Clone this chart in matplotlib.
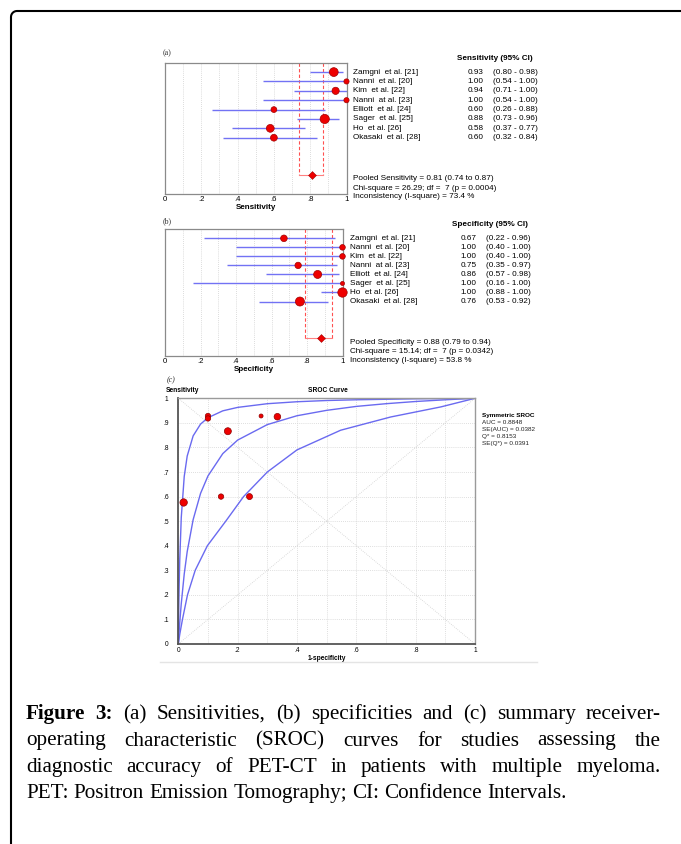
import numpy as np
import matplotlib.pyplot as plt
from matplotlib.transforms import blended_transform_factory
from matplotlib.lines import Line2D

# ---- data ----
studies = ['Zamgni  et al. [21]', 'Nanni  et al. [20]', 'Kim  et al. [22]', 'Nanni  at al. [23]',
           'Elliott  et al. [24]', 'Sager  et al. [25]', 'Ho  et al. [26]', 'Okasaki  et al. [28]']

sens = [0.93, 1.00, 0.94, 1.00, 0.60, 0.88, 0.58, 0.60]
sens_lo = [0.80, 0.54, 0.71, 0.54, 0.26, 0.73, 0.37, 0.32]
sens_hi = [0.98, 1.00, 1.00, 1.00, 0.88, 0.96, 0.77, 0.84]
sens_weight = [4.4, 2.6, 3.6, 2.6, 2.9, 4.6, 3.9, 3.4]
sens_pooled = (0.81, 0.74, 0.87)
sens_stats = ['Pooled Sensitivity = 0.81 (0.74 to 0.87)',
              'Chi-square = 26.29; df =  7 (p = 0.0004)',
              'Inconsistency (I-square) = 73.4 %']

spec = [0.67, 1.00, 1.00, 0.75, 0.86, 1.00, 1.00, 0.76]
spec_lo = [0.22, 0.40, 0.40, 0.35, 0.57, 0.16, 0.88, 0.53]
spec_hi = [0.96, 1.00, 1.00, 0.97, 0.98, 1.00, 1.00, 0.92]
spec_weight = [3.3, 2.8, 2.8, 3.2, 4.0, 2.0, 4.7, 4.5]
spec_pooled = (0.88, 0.79, 0.94)
spec_stats = ['Pooled Specificity = 0.88 (0.79 to 0.94)',
              'Chi-square = 15.14; df =  7 (p = 0.0342)',
              'Inconsistency (I-square) = 53.8 %']

# SROC study points (1-specificity, sensitivity)
sroc_fpr = [0.018, 0.10, 0.10, 0.167, 0.144, 0.24, 0.279, 0.334]
sroc_tpr = [0.576, 0.928, 0.918, 0.866, 0.60, 0.60, 0.928, 0.925]
sroc_weight = [3.7, 2.7, 2.7, 3.5, 2.7, 3.0, 2.0, 3.3]

# SROC curve and its bounds
up_f = [0, 0.001, 0.002, 0.003, 0.005, 0.01, 0.02, 0.03, 0.05, 0.075, 0.1, 0.15, 0.2, 0.3, 0.4, 0.5, 0.6, 0.7, 0.8, 0.9, 1.0]
up_s = [0, 0.095, 0.174, 0.241, 0.346, 0.515, 0.682, 0.765, 0.847, 0.895, 0.921, 0.949, 0.963, 0.978, 0.986, 0.991, 0.994, 0.996, 0.998, 0.999, 1.0]
mid_f = [0, 0.002, 0.005, 0.01, 0.02, 0.03, 0.05, 0.075, 0.1, 0.15, 0.2, 0.3, 0.4, 0.5, 0.6, 0.7, 0.8, 0.9, 1.0]
mid_s = [0, 0.038, 0.089, 0.164, 0.285, 0.376, 0.506, 0.613, 0.684, 0.775, 0.830, 0.893, 0.929, 0.951, 0.967, 0.978, 0.987, 0.994, 1.0]
lo_f = [0, 0.005, 0.014, 0.031, 0.057, 0.098, 0.16, 0.22, 0.3, 0.4, 0.547, 0.716, 0.885, 1.0]
lo_s = [0, 0.04, 0.1, 0.2, 0.3, 0.4, 0.5, 0.6, 0.70, 0.79, 0.87, 0.924, 0.965, 1.0]

sroc_stats = ['AUC = 0.8848', 'SE(AUC) = 0.0382', 'Q* = 0.8153', 'SE(Q*) = 0.0391']

caption = ['Figure 3: (a) Sensitivities, (b) specificities and (c) summary receiver-',
           'operating characteristic (SROC) curves for studies assessing the',
           'diagnostic accuracy of PET-CT in patients with multiple myeloma.',
           'PET: Positron Emission Tomography; CI: Confidence Intervals.']

# ---- figure ----
W, H = 681, 844
fig = plt.figure(figsize=(W / 100, H / 100), dpi=100)
SANS = 'Liberation Sans'
SERIF = 'Liberation Serif'
FS = 5.9


def fx(x):
    return x / W


def fy(y):
    return 1 - y / H


def forest(left, top, right, bottom, est, lo, hi, wt, pooled, stats, xlabel, header,
           name_x, val_x, ci_x, head_x, head_y, stat_ys, tag, tag_y):
    ax = fig.add_axes([fx(left), fy(bottom), (right - left) / W, (bottom - top) / H])
    rows = np.arange(1, len(est) + 1)
    ax.set_xlim(0, 1)
    ax.set_ylim(14, 0)
    for g in np.arange(0.1, 0.95, 0.1):
        ax.axvline(g, color='#d0d0d0', lw=0.6, ls=(0, (1, 1.5)), zorder=0)
    ax.hlines(rows, lo, hi, color='#7272f4', lw=1.0, zorder=2)
    ax.scatter(est, rows, s=(1.44 * np.array(wt)) ** 2, color='#ee0000',
               edgecolor='#a00000', lw=0.5, zorder=3, clip_on=False)
    p, plo, phi = pooled
    ax.plot([plo, plo], [0, 12], color='#ff5050', lw=0.8, ls=(0, (3, 2)), zorder=1)
    ax.plot([phi, phi], [0, 12], color='#ff5050', lw=0.8, ls=(0, (3, 2)), zorder=1)
    ax.plot([plo, phi], [12, 12], color='#ff8080', lw=0.8, zorder=1)
    ax.scatter([p], [12], marker='D', s=16, color='#ee0000', edgecolor='#a00000', lw=0.4, zorder=3)

    ax.set_yticks([])
    ax.set_xticks([0, 0.2, 0.4, 0.6, 0.8, 1.0])
    ax.set_xticklabels(['0', '.2', '.4', '.6', '.8', '1'], fontsize=5.6, family=SANS)
    ax.tick_params(axis='x', length=0, pad=1.5)
    ax.set_xlabel(xlabel, fontsize=5.8, fontweight='bold', family=SANS, labelpad=1)
    for s in ax.spines.values():
        s.set_color('#8a8a8a')
        s.set_linewidth(0.9)

    trans = blended_transform_factory(fig.transFigure, ax.transData)
    for r, name, e, l, h in zip(rows, studies, est, lo, hi):
        ax.text(fx(name_x), r, name, transform=trans, va='center', fontsize=FS, family=SANS)
        ax.text(fx(val_x), r, f'{e:.2f}', transform=trans, va='center', fontsize=FS, family=SANS)
        ax.text(fx(ci_x), r, f'({l:.2f} - {h:.2f})', transform=trans, va='center', fontsize=FS, family=SANS)
    fig.text(fx(head_x), fy(head_y), header, va='center', fontsize=FS, fontweight='bold', family=SANS)
    for t, yy in zip(stats, stat_ys):
        fig.text(fx(name_x), fy(yy), t, va='center', fontsize=FS, family=SANS)
    fig.text(fx(163), fy(tag_y), tag, va='center', fontsize=5.8, family=SERIF, color='#333333')
    return ax


forest(165, 62.7, 346.5, 194, sens, sens_lo, sens_hi, sens_weight, sens_pooled, sens_stats,
       'Sensitivity', 'Sensitivity (95% CI)', 353, 467.5, 493, 457, 58.3,
       [178, 188, 197], '(a)', 53.5)
forest(165, 229.3, 342.5, 355.7, spec, spec_lo, spec_hi, spec_weight, spec_pooled, spec_stats,
       'Specificity', 'Specificity (95% CI)', 350, 460.5, 485.5, 452, 225,
       [342.7, 351.7, 360.7], '(b)', 221)

# ---- SROC panel ----
ax = fig.add_axes([fx(178.3), fy(644), 296.7 / W, 245.7 / H])
ax.set_xlim(0, 1)
ax.set_ylim(0, 1)
ax.set_xticks(np.arange(0, 1.01, 0.2))
ax.set_xticks(np.arange(0.1, 1.0, 0.2), minor=True)
ax.set_xticklabels(['0', '.2', '.4', '.6', '.8', '1'], fontsize=4.8, family=SANS)
ax.set_yticks(np.arange(0, 1.01, 0.1))
ax.set_yticklabels(['0', '.1', '.2', '.3', '.4', '.5', '.6', '.7', '.8', '.9', '1'], fontsize=4.8, family=SANS)
ax.tick_params(which='both', length=0)
ax.tick_params(axis='y', pad=7)
ax.tick_params(axis='x', pad=2)
ax.grid(which='both', color='#d4d4d4', lw=0.6, ls=(0, (1, 1.5)))
ax.set_axisbelow(True)
ax.plot([0, 1], [0, 1], color='#d0d0d0', lw=0.6, ls=(0, (1, 1.5)), zorder=1)
ax.plot([0, 1], [1, 0], color='#d0d0d0', lw=0.6, ls=(0, (1, 1.5)), zorder=1)
ax.plot(up_f, up_s, color='#6a6af0', lw=1.0, zorder=2)
ax.plot(mid_f, mid_s, color='#6a6af0', lw=1.0, zorder=2)
ax.plot(lo_f, lo_s, color='#6a6af0', lw=1.0, zorder=2)
ax.scatter(sroc_fpr, sroc_tpr, s=(1.44 * np.array(sroc_weight)) ** 2, color='#ee0000',
           edgecolor='#900000', lw=0.5, zorder=3)
ax.set_xlabel('1-specificity', fontsize=4.8, fontweight='bold', family=SANS, labelpad=1)
for side in ['left', 'bottom']:
    ax.spines[side].set_color('#555555')
    ax.spines[side].set_linewidth(1.3)
for side in ['top', 'right']:
    ax.spines[side].set_color('#9a9a9a')
    ax.spines[side].set_linewidth(1.0)

fig.text(fx(166), fy(390), 'Sensitivity', va='center', fontsize=4.8, fontweight='bold', family=SANS)
fig.text(fx(328), fy(390), 'SROC Curve', va='center', ha='center', fontsize=4.8, fontweight='bold', family=SANS)
fig.text(fx(167), fy(380), '(c)', va='center', fontsize=5.8, family=SERIF, color='#333333', style='italic')
fig.text(fx(481.5), fy(415.3), 'Symmetric SROC', va='center', fontsize=4.6, fontweight='bold', family=SANS)
for t, yy in zip(sroc_stats, [422.3, 429.3, 436.3, 443.3]):
    fig.text(fx(481.5), fy(yy), t, va='center', fontsize=4.6, family=SANS, color='#222222')
fig.add_artist(Line2D([fx(160), fx(537)], [fy(662), fy(662)], color='#e4e4e4', lw=1.0))

# ---- page frame (rounded top-left corner) ----
r = 6
t = np.linspace(np.pi, 1.5 * np.pi, 12)
bx = np.concatenate([[11], 11 + r + r * np.cos(t), [690]])
by = np.concatenate([[860], 11 + r + r * np.sin(t), [11]])
fig.add_artist(Line2D(fx(bx), fy(by), color='black', lw=1.5))

# ---- caption, justified ----
renderer = fig.canvas.get_renderer()
cap_left, cap_right = 26, 661
cap_fs = 15.2
cap_base = [719, 745.5, 772, 798]
space_w = 0.25 * cap_fs * 100 / 72
for i, (line, yb) in enumerate(zip(caption, cap_base)):
    words = line.split(' ')
    arts = []
    for j, w in enumerate(words):
        bold = (i == 0 and j < 2)
        arts.append(fig.text(fx(cap_left), fy(yb), w, fontsize=cap_fs, family=SERIF,
                             fontweight='bold' if bold else 'normal', va='baseline'))
    widths = [a.get_window_extent(renderer).width for a in arts]
    if i < len(caption) - 1:
        gap = (cap_right - cap_left - sum(widths)) / (len(words) - 1)
    else:
        gap = space_w
    x = cap_left
    for a, w in zip(arts, widths):
        a.set_x(fx(x))
        x += w + gap

fig.savefig('out.png', dpi=100)
